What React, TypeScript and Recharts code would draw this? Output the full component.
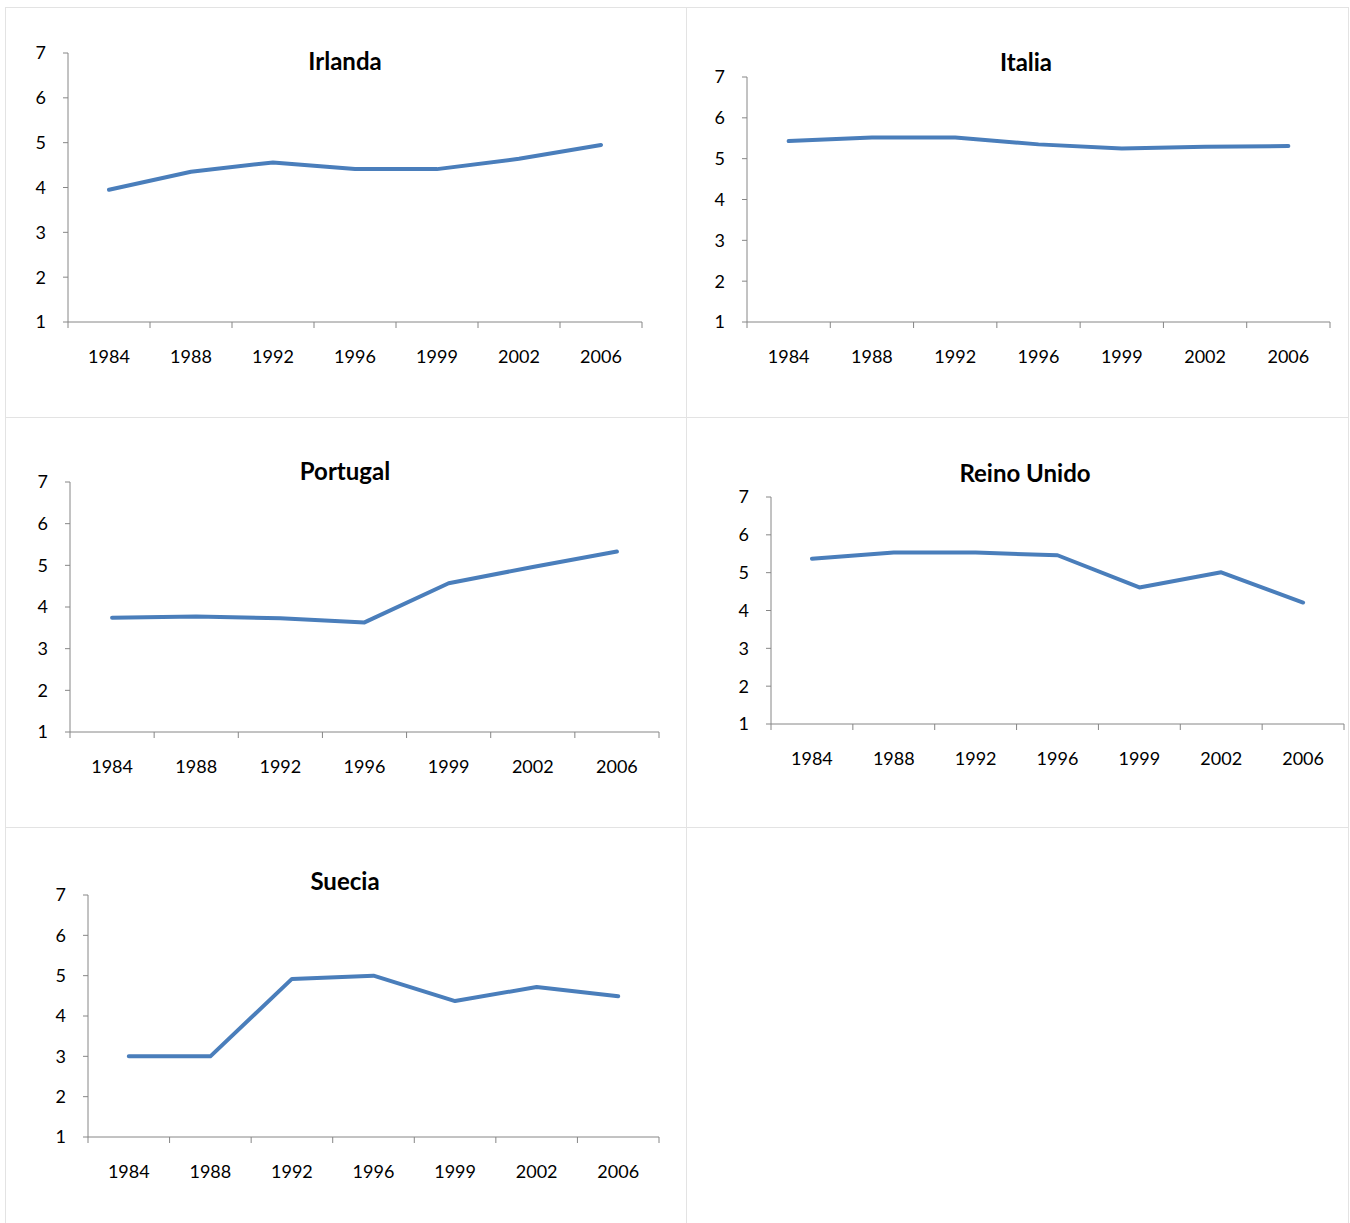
import React from 'react';
import { LineChart, Line, XAxis, YAxis } from 'recharts';

const YEARS = ['1984', '1988', '1992', '1996', '1999', '2002', '2006'];
const Y_TICKS = [1, 2, 3, 4, 5, 6, 7];

const IRLANDA = [3.95, 4.35, 4.56, 4.41, 4.41, 4.64, 4.95];
const ITALIA = [5.43, 5.52, 5.52, 5.35, 5.25, 5.29, 5.31];
const PORTUGAL = [3.74, 3.77, 3.73, 3.63, 4.57, 4.96, 5.33];
const REINO_UNIDO = [5.37, 5.53, 5.53, 5.46, 4.61, 5.01, 4.21];
const SUECIA = [3.0, 3.0, 4.92, 5.0, 4.37, 4.72, 4.49];

const TITLES = ['Irlanda', 'Italia', 'Portugal', 'Reino Unido', 'Suecia'];
const SERIES = [IRLANDA, ITALIA, PORTUGAL, REINO_UNIDO, SUECIA];

// layout: panel box [left, top, width, height], plot box [x1, y1, x2, y2], title center
const LAYOUT = [
  { box: [5, 7, 681, 410], plot: [68, 53, 642, 322], title: [345, 61] },
  { box: [686, 7, 662, 410], plot: [747, 77, 1330, 322], title: [1026, 62] },
  { box: [5, 417, 681, 410], plot: [70, 482, 659, 732], title: [345, 471] },
  { box: [686, 417, 662, 410], plot: [771, 497, 1344, 724], title: [1025, 473] },
  { box: [5, 827, 681, 396], plot: [88, 895, 659, 1137], title: [345, 881] },
];

const FONT = 'Lato, "Open Sans", sans-serif';
const AXIS = '#868686';
const LINE = '#4A7EBB';
const BORDER = '#e3e3e3';

const Y_W = 40;
const XA_H = 1;
const XB_H = 40;

const EmptyTick = () => <g />;

function Panel({ idx }: { idx: number }) {
  const values = SERIES[idx];
  const { box, plot, title } = LAYOUT[idx];
  const [bl, bt, bw, bh] = box;
  const [px1, py1, px2, py2] = plot;
  const data = YEARS.map((year, i) => ({ x: i + 0.5, year, v: values[i] }));
  const margin = {
    left: px1 - bl - Y_W,
    right: bl + bw - px2,
    top: py1 - bt,
    bottom: bt + bh - py2 - XA_H - XB_H,
  };
  const edgeTicks = YEARS.map((_, i) => i).concat([YEARS.length]);
  const midTicks = YEARS.map((_, i) => i + 0.5);
  return (
    <>
      <div style={{ position: 'absolute', left: bl, top: bt }}>
        <LineChart width={bw} height={bh} data={data} margin={margin}>
          <YAxis
            yAxisId="y"
            type="number"
            domain={[1, 7]}
            ticks={Y_TICKS}
            width={Y_W}
            allowDataOverflow
            stroke={AXIS}
            tickSize={5}
            tickMargin={17}
            tick={{ fill: '#000', fontSize: 18, fontFamily: FONT }}
          />
          <XAxis
            xAxisId="edges"
            type="number"
            dataKey="x"
            domain={[0, YEARS.length]}
            ticks={edgeTicks}
            interval={0}
            allowDataOverflow
            height={XA_H}
            stroke={AXIS}
            tickLine={{ stroke: AXIS }}
            tickSize={6}
            tick={EmptyTick}
          />
          <XAxis
            xAxisId="years"
            type="number"
            dataKey="x"
            domain={[0, YEARS.length]}
            ticks={midTicks}
            allowDataOverflow
            height={XB_H}
            axisLine={false}
            tickLine={false}
            tickSize={0}
            tickMargin={27}
            interval={0}
            tickFormatter={(v: number) => YEARS[Math.floor(v)]}
            tick={{ fill: '#000', fontSize: 18, fontFamily: FONT }}
          />
          <Line
            xAxisId="edges"
            yAxisId="y"
            type="linear"
            dataKey="v"
            stroke={LINE}
            strokeWidth={4}
            strokeLinecap="round"
            strokeLinejoin="round"
            dot={false}
            activeDot={false}
            isAnimationActive={false}
          />
          <Line
            xAxisId="years"
            yAxisId="y"
            type="linear"
            dataKey="v"
            stroke="none"
            strokeWidth={0}
            dot={false}
            activeDot={false}
            isAnimationActive={false}
          />
        </LineChart>
      </div>
      <div
        style={{
          position: 'absolute',
          left: title[0] - 200,
          width: 400,
          top: title[1] - 15,
          height: 30,
          lineHeight: '30px',
          textAlign: 'center',
          fontFamily: FONT,
          fontWeight: 700,
          fontSize: 24,
          color: '#000',
        }}
      >
        {TITLES[idx]}
      </div>
    </>
  );
}

function Lines() {
  const s = { position: 'absolute' as const, background: BORDER };
  return (
    <>
      <div style={{ ...s, left: 5, top: 7, width: 1344, height: 1 }} />
      <div style={{ ...s, left: 5, top: 417, width: 1344, height: 1 }} />
      <div style={{ ...s, left: 5, top: 827, width: 1344, height: 1 }} />
      <div style={{ ...s, left: 5, top: 7, width: 1, height: 1216 }} />
      <div style={{ ...s, left: 686, top: 7, width: 1, height: 1216 }} />
      <div style={{ ...s, left: 1348, top: 7, width: 1, height: 1216 }} />
    </>
  );
}

export default function App() {
  return (
    <div style={{ position: 'absolute', left: 0, top: 0, width: 1350, height: 1223, background: '#fff', overflow: 'hidden' }}>
      <Lines />
      {TITLES.map((_, i) => (
        <Panel key={i} idx={i} />
      ))}
    </div>
  );
}
